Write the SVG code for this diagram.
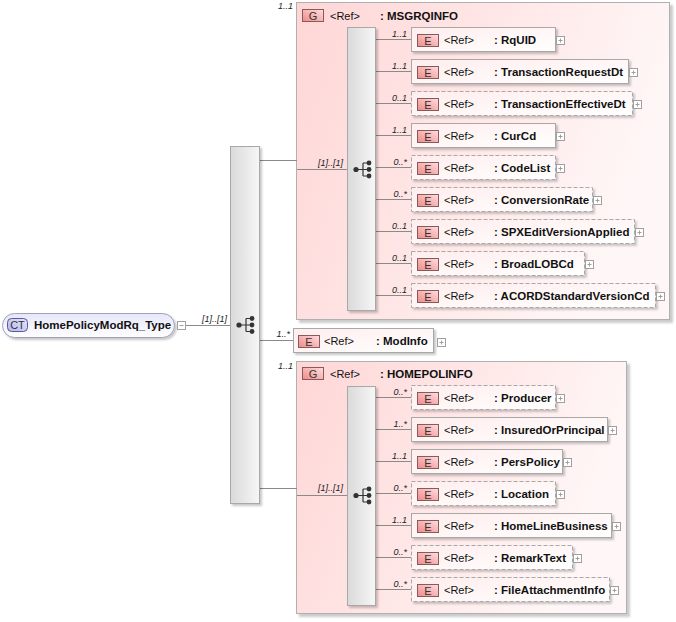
<svg xmlns="http://www.w3.org/2000/svg" width="676" height="622" viewBox="0 0 676 622">
<defs>
<style>
text{font-family:"Liberation Sans",Arial,sans-serif;}
.lbl{font-size:9px;font-style:italic;fill:#222;}
.ref{font-size:11px;fill:#111;}
.nm{font-size:11.5px;font-weight:bold;fill:#111;}
.bt{font-size:11px;fill:#333;text-anchor:middle;}
.eb{fill:url(#gE);stroke:#a8a8a8;stroke-width:1;filter:url(#sh);}
.opt{stroke-dasharray:4,2;}
.badge{fill:url(#gB);stroke:#8a5a5a;stroke-width:1;}
.grp{fill:url(#gG);stroke:#b0b0b0;stroke-width:1;filter:url(#shg);}
.seq{fill:url(#gS);stroke:#a8a8a8;stroke-width:1;filter:url(#sh);}
.pm{fill:#fff;stroke:#a0a0a0;stroke-width:1;}
.pml{stroke:#a0a0a0;stroke-width:1;}
.con line{stroke:#8a8a8a;stroke-width:1;}
.ico{fill:#333;}
.icol{stroke:#333;stroke-width:1.2;fill:none;}
</style>
<linearGradient id="gE" x1="0" y1="0" x2="1" y2="1">
<stop offset="0" stop-color="#ffeded"/><stop offset="1" stop-color="#ffffff"/>
</linearGradient>
<linearGradient id="gB" x1="0" y1="1" x2="1" y2="0">
<stop offset="0" stop-color="#ee8a8a"/><stop offset="1" stop-color="#ffdede"/>
</linearGradient>
<linearGradient id="gG" x1="0" y1="0" x2="1" y2="0.3">
<stop offset="0" stop-color="#ffd6d6"/><stop offset="1" stop-color="#fff7f7"/>
</linearGradient>
<linearGradient id="gS" x1="0" y1="0" x2="1" y2="0">
<stop offset="0" stop-color="#dadada"/><stop offset="1" stop-color="#f6f6f6"/>
</linearGradient>
<linearGradient id="gCT" x1="0" y1="0" x2="0" y2="1">
<stop offset="0" stop-color="#e6e6fa"/><stop offset="1" stop-color="#ffffff"/>
</linearGradient>
<linearGradient id="gCTb" x1="0" y1="1" x2="1" y2="0">
<stop offset="0" stop-color="#b4b4ea"/><stop offset="1" stop-color="#e6e6ff"/>
</linearGradient>
<filter id="sh" x="-10%" y="-10%" width="130%" height="140%">
<feDropShadow dx="2" dy="2" stdDeviation="0.8" flood-color="#000" flood-opacity="0.22"/>
</filter>
<filter id="shg" x="-5%" y="-5%" width="110%" height="110%">
<feDropShadow dx="3" dy="3" stdDeviation="1" flood-color="#000" flood-opacity="0.2"/>
</filter>
<g id="seqIcon">
<circle cx="0" cy="0" r="2.6" class="ico"/>
<path d="M0,0 H7 M7,-6.5 V6.5 M7,-6.5 H13 M7,0 H13 M7,6.5 H13" class="icol"/>
<circle cx="13" cy="-6.5" r="2.4" class="ico"/>
<circle cx="13" cy="0" r="2.4" class="ico"/>
<circle cx="13" cy="6.5" r="2.4" class="ico"/>
</g>
<g id="plus">
<rect x="0.5" y="0.5" width="8" height="8" class="pm"/>
<path d="M2.5,4.5 H6.5 M4.5,2.5 V6.5" class="pml"/>
</g>
</defs>
<rect width="676" height="622" fill="#fff"/>

<!-- groups (containers) -->
<g id="g-MSGRQINFO">
<rect x="296.5" y="2.5" width="373" height="317" class="grp"/>
<rect x="302.5" y="9.5" width="21" height="12" class="badge"/>
<text x="313" y="20" class="bt">G</text>
<text x="330" y="20" class="ref">&lt;Ref&gt;</text>
<text x="380" y="20" class="nm">: MSGRQINFO</text>
<text x="293" y="9" class="lbl" text-anchor="end">1..1</text>
</g>
<g id="g-HOMEPOLINFO">
<rect x="296.5" y="361.5" width="330" height="252" class="grp"/>
<rect x="302.5" y="367.5" width="21" height="12" class="badge"/>
<text x="313" y="378" class="bt">G</text>
<text x="330" y="378" class="ref">&lt;Ref&gt;</text>
<text x="380" y="378" class="nm">: HOMEPOLINFO</text>
<text x="293" y="369" class="lbl" text-anchor="end">1..1</text>
</g>

<!-- connectors -->
<g id="connectors" class="con">
<line x1="186" y1="325.5" x2="230" y2="325.5"/>
<line x1="260" y1="160.5" x2="297" y2="160.5"/>
<line x1="297" y1="169.5" x2="347" y2="169.5"/>
<line x1="260" y1="340.5" x2="294" y2="340.5"/>
<line x1="260" y1="488.5" x2="297" y2="488.5"/>
<line x1="297" y1="495.5" x2="347" y2="495.5"/>
<line x1="376" y1="39.5" x2="411" y2="39.5"/>
<line x1="376" y1="71.5" x2="411" y2="71.5"/>
<line x1="376" y1="103.5" x2="411" y2="103.5"/>
<line x1="376" y1="135.5" x2="411" y2="135.5"/>
<line x1="376" y1="167.5" x2="411" y2="167.5"/>
<line x1="376" y1="199.5" x2="411" y2="199.5"/>
<line x1="376" y1="231.5" x2="411" y2="231.5"/>
<line x1="376" y1="263.5" x2="411" y2="263.5"/>
<line x1="376" y1="295.5" x2="411" y2="295.5"/>
<line x1="376" y1="397.5" x2="411" y2="397.5"/>
<line x1="376" y1="429.5" x2="411" y2="429.5"/>
<line x1="376" y1="461.5" x2="411" y2="461.5"/>
<line x1="376" y1="493.5" x2="411" y2="493.5"/>
<line x1="376" y1="525.5" x2="411" y2="525.5"/>
<line x1="376" y1="557.5" x2="411" y2="557.5"/>
<line x1="376" y1="589.5" x2="411" y2="589.5"/>
<text x="227" y="322" class="lbl" text-anchor="end">[1]..[1]</text>
<text x="343" y="166" class="lbl" text-anchor="end">[1]..[1]</text>
<text x="343" y="491" class="lbl" text-anchor="end">[1]..[1]</text>
<text x="290" y="337" class="lbl" text-anchor="end">1..*</text>
<text x="407" y="37" class="lbl" text-anchor="end">1..1</text>
<text x="407" y="69" class="lbl" text-anchor="end">1..1</text>
<text x="407" y="101" class="lbl" text-anchor="end">0..1</text>
<text x="407" y="133" class="lbl" text-anchor="end">1..1</text>
<text x="407" y="165" class="lbl" text-anchor="end">0..*</text>
<text x="407" y="197" class="lbl" text-anchor="end">0..*</text>
<text x="407" y="229" class="lbl" text-anchor="end">0..1</text>
<text x="407" y="261" class="lbl" text-anchor="end">0..1</text>
<text x="407" y="293" class="lbl" text-anchor="end">0..1</text>
<text x="407" y="395" class="lbl" text-anchor="end">0..*</text>
<text x="407" y="427" class="lbl" text-anchor="end">1..*</text>
<text x="407" y="459" class="lbl" text-anchor="end">1..1</text>
<text x="407" y="491" class="lbl" text-anchor="end">0..*</text>
<text x="407" y="523" class="lbl" text-anchor="end">1..1</text>
<text x="407" y="555" class="lbl" text-anchor="end">0..*</text>
<text x="407" y="587" class="lbl" text-anchor="end">0..*</text>
</g>

<!-- root complex type -->
<g id="ct-HomePolicyModRq_Type">
<rect x="2.5" y="313.5" width="172" height="24" rx="12" ry="12" fill="url(#gCT)" stroke="#a0a0b8" filter="url(#sh)"/>
<rect x="7.5" y="318.5" width="20" height="13" rx="4" ry="4" fill="url(#gCTb)" stroke="#5a5a9a"/>
<text x="17.5" y="329" class="bt" fill="#333">CT</text>
<text x="34" y="329" class="nm">HomePolicyModRq_Type</text>
<rect x="177.5" y="321.5" width="8" height="8" class="pm"/>
<path d="M179.5,325.5 H183.5" class="pml"/>
</g>

<!-- sequences -->
<g id="seq-main">
<rect x="230.5" y="146.5" width="29" height="357" class="seq"/>
<use href="#seqIcon" x="239" y="325"/>
</g>
<g id="seq-MSGRQINFO">
<rect x="347.5" y="27.5" width="28" height="283" class="seq"/>
<use href="#seqIcon" x="356" y="169.5"/>
</g>
<g id="seq-HOMEPOLINFO">
<rect x="347.5" y="386.5" width="28" height="219" class="seq"/>
<use href="#seqIcon" x="356" y="495.5"/>
</g>

<!-- ModInfo -->
<g id="e-ModInfo">
<rect x="293.5" y="328.5" width="140" height="24" class="eb"/>
<rect x="298.5" y="335.5" width="21" height="12" class="badge"/>
<text x="309" y="346" class="bt">E</text>
<text x="324" y="345" class="ref">&lt;Ref&gt;</text>
<text x="376" y="345" class="nm">: ModInfo</text>
<use href="#plus" x="437" y="338"/>
</g>

<!-- MSGRQINFO children -->
<g id="e-RqUID">
<rect x="411.5" y="27.5" width="144" height="24" class="eb"/>
<rect x="417.5" y="34.5" width="21" height="12" class="badge"/><text x="428" y="45" class="bt">E</text>
<text x="444" y="44" class="ref">&lt;Ref&gt;</text><text x="494" y="44" class="nm">: RqUID</text>
<use href="#plus" x="556" y="36"/>
</g>
<g id="e-TransactionRequestDt">
<rect x="411.5" y="59.5" width="217" height="24" class="eb"/>
<rect x="417.5" y="66.5" width="21" height="12" class="badge"/><text x="428" y="77" class="bt">E</text>
<text x="444" y="76" class="ref">&lt;Ref&gt;</text><text x="494" y="76" class="nm">: TransactionRequestDt</text>
<use href="#plus" x="629" y="68"/>
</g>
<g id="e-TransactionEffectiveDt">
<rect x="411.5" y="91.5" width="221" height="24" class="eb opt"/>
<rect x="417.5" y="98.5" width="21" height="12" class="badge"/><text x="428" y="109" class="bt">E</text>
<text x="444" y="108" class="ref">&lt;Ref&gt;</text><text x="494" y="108" class="nm">: TransactionEffectiveDt</text>
<use href="#plus" x="633" y="100"/>
</g>
<g id="e-CurCd">
<rect x="411.5" y="123.5" width="144" height="24" class="eb"/>
<rect x="417.5" y="130.5" width="21" height="12" class="badge"/><text x="428" y="141" class="bt">E</text>
<text x="444" y="140" class="ref">&lt;Ref&gt;</text><text x="494" y="140" class="nm">: CurCd</text>
<use href="#plus" x="556" y="132"/>
</g>
<g id="e-CodeList">
<rect x="411.5" y="155.5" width="144" height="24" class="eb opt"/>
<rect x="417.5" y="162.5" width="21" height="12" class="badge"/><text x="428" y="173" class="bt">E</text>
<text x="444" y="172" class="ref">&lt;Ref&gt;</text><text x="494" y="172" class="nm">: CodeList</text>
<use href="#plus" x="556" y="164"/>
</g>
<g id="e-ConversionRate">
<rect x="411.5" y="187.5" width="181" height="24" class="eb opt"/>
<rect x="417.5" y="194.5" width="21" height="12" class="badge"/><text x="428" y="205" class="bt">E</text>
<text x="444" y="204" class="ref">&lt;Ref&gt;</text><text x="494" y="204" class="nm">: ConversionRate</text>
<use href="#plus" x="593" y="196"/>
</g>
<g id="e-SPXEditVersionApplied">
<rect x="411.5" y="219.5" width="223" height="24" class="eb opt"/>
<rect x="417.5" y="226.5" width="21" height="12" class="badge"/><text x="428" y="237" class="bt">E</text>
<text x="444" y="236" class="ref">&lt;Ref&gt;</text><text x="494" y="236" class="nm">: SPXEditVersionApplied</text>
<use href="#plus" x="635" y="228"/>
</g>
<g id="e-BroadLOBCd">
<rect x="411.5" y="251.5" width="173" height="24" class="eb opt"/>
<rect x="417.5" y="258.5" width="21" height="12" class="badge"/><text x="428" y="269" class="bt">E</text>
<text x="444" y="268" class="ref">&lt;Ref&gt;</text><text x="494" y="268" class="nm">: BroadLOBCd</text>
<use href="#plus" x="585" y="260"/>
</g>
<g id="e-ACORDStandardVersionCd">
<rect x="411.5" y="283.5" width="244" height="24" class="eb opt"/>
<rect x="417.5" y="290.5" width="21" height="12" class="badge"/><text x="428" y="301" class="bt">E</text>
<text x="444" y="300" class="ref">&lt;Ref&gt;</text><text x="494" y="300" class="nm">: ACORDStandardVersionCd</text>
<use href="#plus" x="656" y="292"/>
</g>

<!-- HOMEPOLINFO children -->
<g id="e-Producer">
<rect x="411.5" y="385.5" width="144" height="24" class="eb opt"/>
<rect x="417.5" y="392.5" width="21" height="12" class="badge"/><text x="428" y="403" class="bt">E</text>
<text x="444" y="402" class="ref">&lt;Ref&gt;</text><text x="494" y="402" class="nm">: Producer</text>
<use href="#plus" x="556" y="394"/>
</g>
<g id="e-InsuredOrPrincipal">
<rect x="411.5" y="417.5" width="196" height="24" class="eb"/>
<rect x="417.5" y="424.5" width="21" height="12" class="badge"/><text x="428" y="435" class="bt">E</text>
<text x="444" y="434" class="ref">&lt;Ref&gt;</text><text x="494" y="434" class="nm">: InsuredOrPrincipal</text>
<use href="#plus" x="608" y="426"/>
</g>
<g id="e-PersPolicy">
<rect x="411.5" y="449.5" width="151" height="24" class="eb"/>
<rect x="417.5" y="456.5" width="21" height="12" class="badge"/><text x="428" y="467" class="bt">E</text>
<text x="444" y="466" class="ref">&lt;Ref&gt;</text><text x="494" y="466" class="nm">: PersPolicy</text>
<use href="#plus" x="563" y="458"/>
</g>
<g id="e-Location">
<rect x="411.5" y="481.5" width="144" height="24" class="eb opt"/>
<rect x="417.5" y="488.5" width="21" height="12" class="badge"/><text x="428" y="499" class="bt">E</text>
<text x="444" y="498" class="ref">&lt;Ref&gt;</text><text x="494" y="498" class="nm">: Location</text>
<use href="#plus" x="556" y="490"/>
</g>
<g id="e-HomeLineBusiness">
<rect x="411.5" y="513.5" width="200" height="24" class="eb"/>
<rect x="417.5" y="520.5" width="21" height="12" class="badge"/><text x="428" y="531" class="bt">E</text>
<text x="444" y="530" class="ref">&lt;Ref&gt;</text><text x="494" y="530" class="nm">: HomeLineBusiness</text>
<use href="#plus" x="612" y="522"/>
</g>
<g id="e-RemarkText">
<rect x="411.5" y="545.5" width="161" height="24" class="eb opt"/>
<rect x="417.5" y="552.5" width="21" height="12" class="badge"/><text x="428" y="563" class="bt">E</text>
<text x="444" y="562" class="ref">&lt;Ref&gt;</text><text x="494" y="562" class="nm">: RemarkText</text>
<use href="#plus" x="573" y="554"/>
</g>
<g id="e-FileAttachmentInfo">
<rect x="411.5" y="577.5" width="198" height="24" class="eb opt"/>
<rect x="417.5" y="584.5" width="21" height="12" class="badge"/><text x="428" y="595" class="bt">E</text>
<text x="444" y="594" class="ref">&lt;Ref&gt;</text><text x="494" y="594" class="nm">: FileAttachmentInfo</text>
<use href="#plus" x="610" y="586"/>
</g>
</svg>
